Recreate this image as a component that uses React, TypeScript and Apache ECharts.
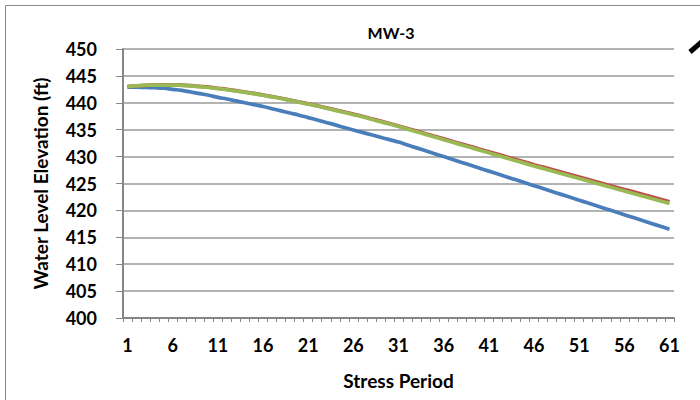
import React, { useEffect, useRef } from "react";
import * as echarts from "echarts";

const categories: string[] = Array.from({ length: 61 }, (_, i) => String(i + 1));

const seriesBlue: number[] = [
  442.9, 442.9, 442.85, 442.8, 442.7, 442.5, 442.3, 442.0, 441.7, 441.4,
  441.0, 440.7, 440.35, 440.0, 439.65, 439.3, 438.9, 438.5, 438.1, 437.7,
  437.25, 436.8, 436.35, 435.9, 435.4, 434.95, 434.5, 434.05, 433.6, 433.15,
  432.7, 432.16, 431.62, 431.08, 430.54, 430.0, 429.46, 428.92, 428.38, 427.84,
  427.3, 426.76, 426.22, 425.68, 425.14, 424.6, 424.06, 423.52, 422.98, 422.44,
  421.9, 421.36, 420.82, 420.28, 419.74, 419.2, 418.66, 418.12, 417.58, 417.04,
  416.5,
];

const seriesRed: number[] = [
  443.0, 443.15, 443.25, 443.3, 443.35, 443.35, 443.3, 443.2, 443.05, 442.9,
  442.7, 442.5, 442.25, 442.0, 441.75, 441.45, 441.15, 440.85, 440.5, 440.15,
  439.8, 439.45, 439.05, 438.7, 438.3, 437.9, 437.5, 437.05, 436.6, 436.15,
  435.7, 435.22, 434.74, 434.26, 433.78, 433.3, 432.82, 432.34, 431.86, 431.38,
  430.9, 430.42, 429.94, 429.46, 428.98, 428.5, 428.04, 427.58, 427.12, 426.66,
  426.2, 425.74, 425.28, 424.82, 424.36, 423.9, 423.44, 422.98, 422.52, 422.06,
  421.6,
];

const seriesGreen: number[] = [
  443.0, 443.15, 443.25, 443.3, 443.3, 443.3, 443.25, 443.15, 443.0, 442.85,
  442.65, 442.45, 442.2, 441.95, 441.7, 441.4, 441.1, 440.8, 440.45, 440.1,
  439.75, 439.4, 439.0, 438.6, 438.2, 437.8, 437.4, 436.95, 436.5, 436.05,
  435.6, 435.11, 434.62, 434.13, 433.64, 433.15, 432.66, 432.17, 431.68, 431.19,
  430.7, 430.21, 429.72, 429.23, 428.74, 428.25, 427.79, 427.32, 426.86, 426.4,
  425.93, 425.47, 425.0, 424.54, 424.08, 423.61, 423.15, 422.69, 422.22, 421.76,
  421.3,
];

const yMin = 400;
const yMax = 450;
const yStep = 5;

const FONT = "Lato, 'Open Sans', sans-serif";

export default function App() {
  const ref = useRef<HTMLDivElement>(null);

  useEffect(() => {
    document.body.style.margin = "0";
    if (!ref.current) return;
    const chart = echarts.init(ref.current, undefined, { renderer: "svg" });
    const lineSeries = (name: string, data: number[], color: string, z: number) => ({
      name,
      type: "line",
      data,
      smooth: true,
      showSymbol: false,
      symbol: "none",
      z,
      lineStyle: { color, width: 3.7 },
      itemStyle: { color },
    });
    chart.setOption({
      animation: false,
      backgroundColor: "#ffffff",
      grid: { left: 123, right: 26, top: 49, bottom: 82, containLabel: false },
      xAxis: {
        type: "category",
        data: categories,
        boundaryGap: true,
        name: "Stress Period",
        nameLocation: "middle",
        nameGap: 53,
        nameTextStyle: { fontFamily: FONT, fontWeight: "bold", fontSize: 19, color: "#000" },
        axisLine: { lineStyle: { color: "#868686", width: 2 } },
        axisTick: { show: true, interval: 0, length: 4, lineStyle: { color: "#868686" } },
        axisLabel: {
          interval: 4,
          margin: 18,
          fontFamily: FONT,
          fontWeight: "bold",
          fontSize: 18,
          color: "#000",
        },
        splitLine: { show: false },
      },
      yAxis: {
        type: "value",
        min: yMin,
        max: yMax,
        interval: yStep,
        name: "Water Level Elevation (ft)",
        nameLocation: "middle",
        nameGap: 73,
        nameRotate: 90,
        nameTextStyle: { fontFamily: FONT, fontWeight: "bold", fontSize: 19, color: "#000" },
        axisLine: { show: true, lineStyle: { color: "#868686", width: 2 } },
        axisTick: { show: true, length: 7, lineStyle: { color: "#868686" } },
        axisLabel: {
          margin: 26,
          fontFamily: FONT,
          fontWeight: "bold",
          fontSize: 18,
          color: "#000",
        },
        splitLine: { show: true, lineStyle: { color: "#9a9a9a", width: 1.5 } },
      },
      graphic: [
        {
          type: "rect",
          shape: { x: 5.5, y: 5.5, width: 800, height: 500 },
          style: { fill: "none", stroke: "#8a8a8a", lineWidth: 1 },
          silent: true,
        },
        {
          type: "text",
          x: 391,
          y: 32,
          style: {
            text: "MW-3",
            fontFamily: FONT,
            fontWeight: "bold",
            fontSize: 16,
            fill: "#000",
            align: "center",
            verticalAlign: "middle",
          },
          silent: true,
        },
        {
          type: "line",
          shape: { x1: 690, y1: 52, x2: 712, y2: 33 },
          style: { stroke: "#000", lineWidth: 5 },
          silent: true,
        },
      ],
      series: [
        lineSeries("Series 1", seriesBlue, "#4A7EBB", 3),
        lineSeries("Series 2", seriesRed, "#BE4B48", 4),
        lineSeries("Series 3", seriesGreen, "#98B954", 5),
      ],
    });
    return () => chart.dispose();
  }, []);

  return <div ref={ref} style={{ width: 700, height: 400 }} />;
}
